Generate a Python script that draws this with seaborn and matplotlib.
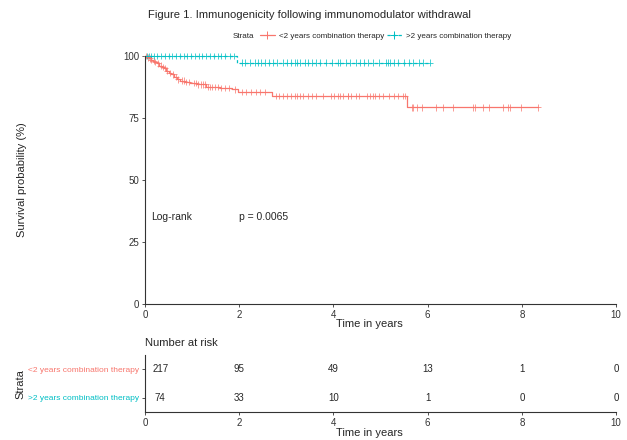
import numpy as np
import pandas as pd
import matplotlib
matplotlib.use("Agg")
import matplotlib.pyplot as plt
import seaborn as sns
from matplotlib.lines import Line2D

# strata
groups = ['<2 years combination therapy', '>2 years combination therapy']
colors = ['#F8766D', '#00BFC4']

# Kaplan-Meier steps (years, survival %)
red_times = [0, 0.04, 0.08, 0.12, 0.16, 0.2, 0.25, 0.3, 0.35, 0.4, 0.45, 0.5, 0.56,
             0.62, 0.68, 0.74, 0.85, 0.95, 1.1, 1.3, 1.6, 1.85, 1.98, 2.70, 5.57]
red_surv = [100, 99.5, 99.1, 98.6, 98.1, 97.6, 97.1, 96.1, 95.6, 95.1, 94.1, 93.1, 92.6,
            91.6, 90.6, 90.1, 89.6, 89.1, 88.6, 87.6, 87.1, 86.6, 85.6, 83.9, 79.3]
red_end = 8.34
red_censor = [0.03, 0.06, 0.1, 0.13, 0.18, 0.22, 0.28, 0.33, 0.38, 0.42, 0.47, 0.52,
              0.6, 0.66, 0.71, 0.78, 0.82, 0.88, 0.93, 1.03, 1.08, 1.13, 1.18, 1.23,
              1.28, 1.33, 1.38, 1.43, 1.48, 1.55, 1.62, 1.7, 1.78, 1.9, 2.05, 2.15,
              2.25, 2.35, 2.45, 2.55, 2.79, 2.85, 2.94, 3.02, 3.09, 3.19, 3.23, 3.30,
              3.36, 3.47, 3.55, 3.64, 3.77, 3.94, 4.02, 4.09, 4.15, 4.21, 4.30, 4.32,
              4.38, 4.47, 4.55, 4.72, 4.77, 4.83, 4.89, 4.96, 5.06, 5.17, 5.28, 5.38,
              5.47, 5.51, 5.66, 5.70, 5.77, 5.89, 6.17, 6.32, 6.53, 6.96, 7.0, 7.17,
              7.30, 7.60, 7.70, 7.74, 7.98, 8.34]

blue_times = [0, 1.95]
blue_surv = [100, 97.3]
blue_end = 6.05
blue_censor = [0.04, 0.08, 0.12, 0.18, 0.26, 0.34, 0.42, 0.5, 0.58, 0.66, 0.74, 0.82,
               0.9, 0.98, 1.06, 1.14, 1.22, 1.3, 1.38, 1.46, 1.55, 1.62, 1.7, 1.8, 1.88,
               2.06, 2.13, 2.23, 2.34, 2.40, 2.47, 2.55, 2.64, 2.72, 2.81, 2.94, 3.02,
               3.09, 3.19, 3.23, 3.30, 3.40, 3.45, 3.55, 3.62, 3.72, 3.85, 3.98, 4.09,
               4.15, 4.26, 4.36, 4.47, 4.57, 4.64, 4.74, 4.85, 4.96, 5.11, 5.15, 5.21,
               5.28, 5.38, 5.49, 5.60, 5.70, 5.81, 5.91, 6.04]

# number at risk
risk_times = [0, 2, 4, 6, 8, 10]
risk_red = [217, 95, 49, 13, 1, 0]
risk_blue = [74, 33, 10, 1, 0, 0]

sns.set_style("ticks")
plt.rcParams['font.family'] = ['Liberation Sans', 'DejaVu Sans']


def curve_frame(times, surv, end, name):
    return pd.DataFrame({'time': times + [end], 'surv': surv + [surv[-1]], 'strata': name})


def censor_frame(times, surv, cens, name):
    idx = np.searchsorted(times, cens, side='right') - 1
    return pd.DataFrame({'time': cens, 'surv': np.array(surv)[idx], 'strata': name})


curves = pd.concat([curve_frame(red_times, red_surv, red_end, groups[0]),
                    curve_frame(blue_times, blue_surv, blue_end, groups[1])])
cens = pd.concat([censor_frame(red_times, red_surv, red_censor, groups[0]),
                  censor_frame(blue_times, blue_surv, blue_censor, groups[1])])
pal = dict(zip(groups, colors))

fig = plt.figure(figsize=(6.27, 4.4), dpi=100)
ax = fig.add_axes([0.2313, 0.309, 0.7512, 0.5636])
sns.lineplot(data=curves, x='time', y='surv', hue='strata', style='strata', palette=pal,
             dashes={groups[0]: '', groups[1]: (2.5, 2)}, drawstyle='steps-post',
             estimator=None, sort=False, legend=False, linewidth=0.9, ax=ax, clip_on=False)
sns.scatterplot(data=cens, x='time', y='surv', hue='strata', palette=pal, marker='+',
                s=22, linewidth=0.6, alpha=0.85, legend=False, ax=ax, clip_on=False)
ax.set_xlim(0, 10)
ax.set_ylim(0, 100)
ax.set_xticks(risk_times)
ax.set_yticks([0, 25, 50, 75, 100])
ax.set_xlabel('')
ax.set_ylabel('')
ax.tick_params(labelsize=7, length=2.5, width=0.6, colors='#333333', pad=1.5)
for s in ['top', 'right']:
    ax.spines[s].set_visible(False)
for s in ['left', 'bottom']:
    ax.spines[s].set_color('#333333')
    ax.spines[s].set_linewidth(0.8)
ax.text(0.12, 35, 'Log-rank', fontsize=7.5, va='center')
ax.text(2.0, 35, 'p = 0.0065', fontsize=7.5, va='center')

# risk table
rt = fig.add_axes([0.2313, 0.0636, 0.7512, 0.1295])
rows = pd.DataFrame({'time': risk_times * 2, 'n': risk_red + risk_blue,
                     'row': [1] * len(risk_times) + [0] * len(risk_times)})
for _, r in rows.iterrows():
    off = 11 if r['time'] == 0 else 0
    rt.annotate(str(int(r['n'])), (r['time'], r['row']), xytext=(off, 0),
                textcoords='offset points', ha='center', va='center', fontsize=7)
rt.set_xlim(0, 10)
rt.set_ylim(-0.5, 1.5)
rt.set_xticks(risk_times)
rt.set_yticks([1, 0])
rt.set_yticklabels(groups)
rt.tick_params(axis='x', labelsize=7, length=2.5, width=0.6, colors='#333333', pad=1.5)
rt.tick_params(axis='y', labelsize=6, length=2.5, width=0.6, colors='#333333', pad=1.5)
for lab, c in zip(rt.get_yticklabels(), colors):
    lab.set_color(c)
for s in ['top', 'right']:
    rt.spines[s].set_visible(False)
for s in ['left', 'bottom']:
    rt.spines[s].set_color('#333333')
    rt.spines[s].set_linewidth(0.8)

fig.text(148 / 627, 1 - 15 / 440, 'Figure 1. Immunogenicity following immunomodulator withdrawal',
         fontsize=8.15, va='center')
fig.text(22 / 627, 1 - 180 / 440, 'Survival probability (%)', rotation=90, fontsize=8,
         va='center', ha='center')
fig.text(369 / 627, 1 - 324 / 440, 'Time in years', fontsize=8, va='center', ha='center')
fig.text(145 / 627, 1 - 343 / 440, 'Number at risk', fontsize=8, va='center')
fig.text(20 / 627, 1 - 384 / 440, 'Strata', rotation=90, fontsize=8, va='center', ha='center')
fig.text(369 / 627, 1 - 433 / 440, 'Time in years', fontsize=8, va='center', ha='center')

# legend on top
fig.text(233 / 627, 1 - 36 / 440, 'Strata', fontsize=5.8, va='center')
handles = [Line2D([0], [0], color=colors[0], lw=0.9, marker='+', ms=6, mew=0.7),
           Line2D([0], [0], color=colors[1], lw=0.9, ls=(0, (2.5, 2)), marker='+', ms=6, mew=0.7)]
fig.legend(handles, groups, loc='center left', bbox_to_anchor=(260 / 627, 1 - 36 / 440),
           ncol=2, frameon=False, fontsize=5.8, handlelength=1.8, handletextpad=0.5,
           columnspacing=0.4, borderaxespad=0, borderpad=0)

fig.savefig('out.png', dpi=100)
